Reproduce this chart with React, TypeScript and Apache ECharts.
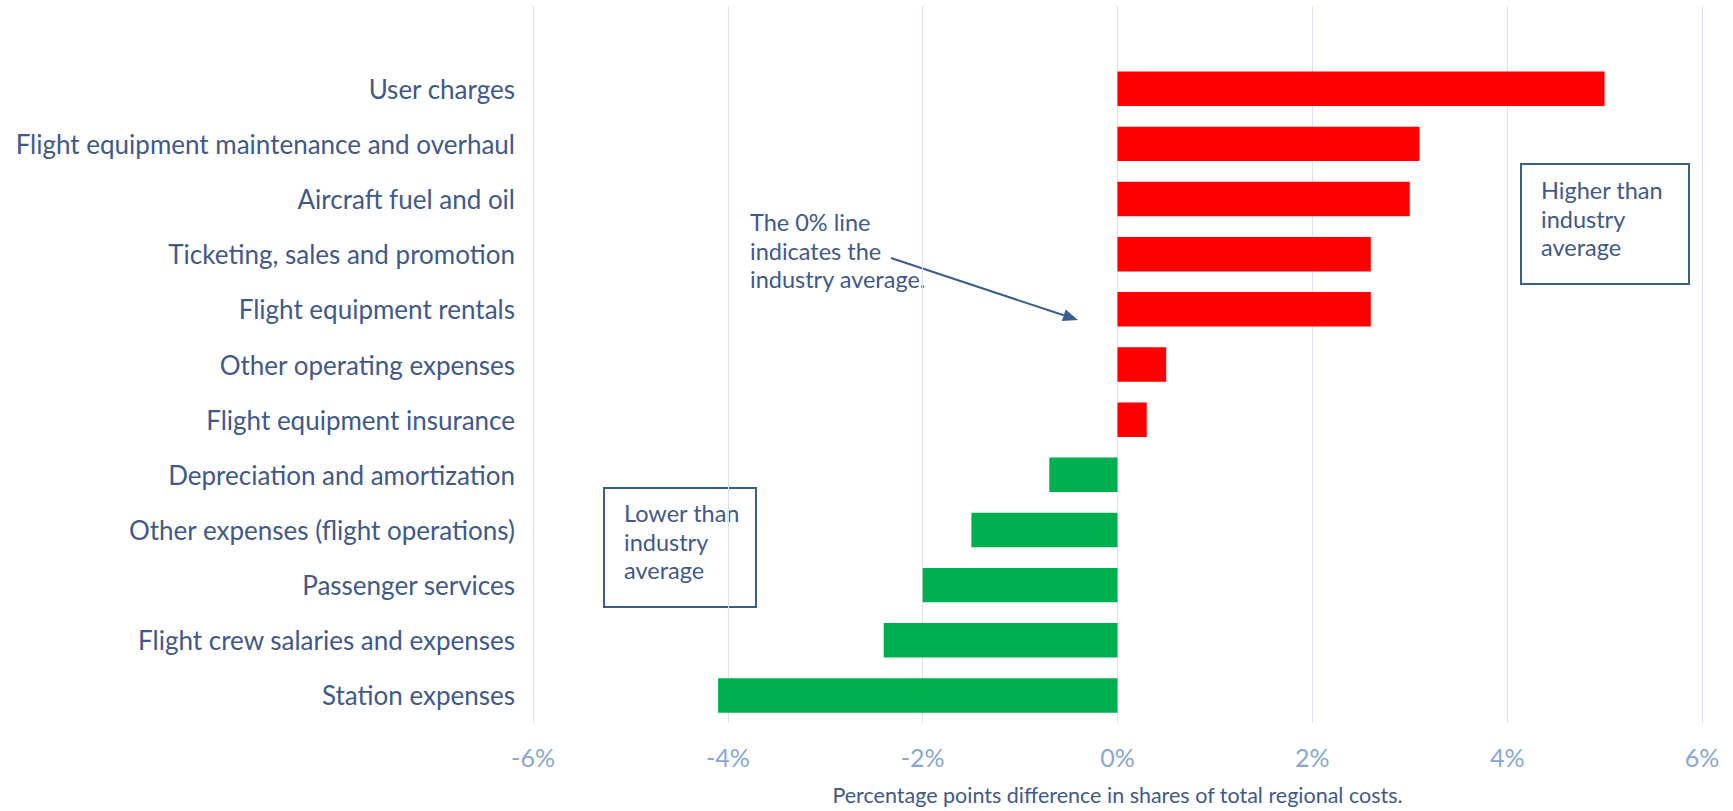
import React, { useEffect, useRef } from "react";
import * as echarts from "echarts";

const categories = [
  "User charges",
  "Flight equipment maintenance and overhaul",
  "Aircraft fuel and oil",
  "Ticketing, sales and promotion",
  "Flight equipment rentals",
  "Other operating expenses",
  "Flight equipment insurance",
  "Depreciation and amortization",
  "Other expenses (flight operations)",
  "Passenger services",
  "Flight crew salaries and expenses",
  "Station expenses",
];
const values = [5.0, 3.1, 3.0, 2.6, 2.6, 0.5, 0.3, -0.7, -1.5, -2.0, -2.4, -4.1];
const xTicks = { min: -6, max: 6, interval: 2 };
const axisTitle = "Percentage points difference in shares of total regional costs.";
const noteText = ["The 0% line", "indicates the", "industry average."];
const higherText = ["Higher than", "industry", "average"];
const lowerText = ["Lower than", "industry", "average"];

const FONT = "Lato, 'Open Sans', sans-serif";
const TEXT = "#41598a";
const BOX = "#3a5c8f";

export default function App() {
  const ref = useRef<HTMLDivElement>(null);
  useEffect(() => {
    if (!ref.current) return;
    const chart = echarts.init(ref.current, null, {
      renderer: "svg",
      width: 1733,
      height: 811,
    });
    const yData = ["", ...categories];
    const sData = [null, ...values];
    const ax = 891, ay = 258, tx = 1078, ty = 320;
    const dx = tx - ax, dy = ty - ay;
    const len = Math.hypot(dx, dy);
    const ux = dx / len, uy = dy / len;
    const hl = 15, hw = 6;
    const bx = tx - ux * hl, by = ty - uy * hl;
    const textLines = (lines: string[], x: number, y: number, lh: number) =>
      lines.map((t, i) => ({
        type: "text",
        left: x,
        top: y + i * lh,
        style: { text: t, fill: TEXT, font: `23.5px ${FONT}` },
      }));
    chart.setOption({
      animation: false,
      backgroundColor: "#ffffff",
      grid: { left: 533, right: 31, top: 6, height: 718, containLabel: false },
      xAxis: {
        type: "value",
        min: xTicks.min,
        max: xTicks.max,
        interval: xTicks.interval,
        axisLine: { show: false },
        axisTick: { show: false },
        splitLine: { show: true, lineStyle: { color: "#dce3ef", width: 1 } },
        axisLabel: {
          formatter: "{value}%",
          color: "#8aa6d6",
          fontSize: 25,
          fontFamily: FONT,
          margin: 21,
        },
        name: axisTitle,
        nameLocation: "middle",
        nameGap: 61,
        nameTextStyle: { color: TEXT, fontSize: 21.5, fontFamily: FONT },
      },
      yAxis: {
        type: "category",
        inverse: true,
        data: yData,
        axisLine: { show: false },
        axisTick: { show: false },
        splitLine: { show: false },
        axisLabel: { color: TEXT, fontSize: 26, fontFamily: FONT, margin: 18 },
      },
      series: [
        {
          type: "bar",
          data: sData,
          barWidth: "62.5%",
          itemStyle: {
            color: (p: any) => (p.value >= 0 ? "#ff0000" : "#00b050"),
          },
        },
      ],
      graphic: [
        ...textLines(noteText, 750, 210, 28.5),
        {
          type: "line",
          shape: { x1: ax, y1: ay, x2: bx, y2: by },
          style: { stroke: BOX, lineWidth: 2 },
        },
        {
          type: "polygon",
          shape: {
            points: [
              [tx, ty],
              [bx - uy * hw, by + ux * hw],
              [bx + uy * hw, by - ux * hw],
            ],
          },
          style: { fill: BOX },
        },
        {
          type: "rect",
          shape: { x: 1521, y: 164, width: 168, height: 120 },
          style: { fill: "rgba(0,0,0,0)", stroke: BOX, lineWidth: 2 },
        },
        ...textLines(higherText, 1541, 178, 28.5),
        {
          type: "rect",
          shape: { x: 604, y: 488, width: 152, height: 119 },
          style: { fill: "rgba(0,0,0,0)", stroke: BOX, lineWidth: 2 },
        },
        ...textLines(lowerText, 624, 501, 28.5),
      ],
    });
    return () => chart.dispose();
  }, []);
  return (
    <div
      ref={ref}
      style={{ position: "fixed", left: 0, top: 0, width: 1733, height: 811 }}
    />
  );
}
